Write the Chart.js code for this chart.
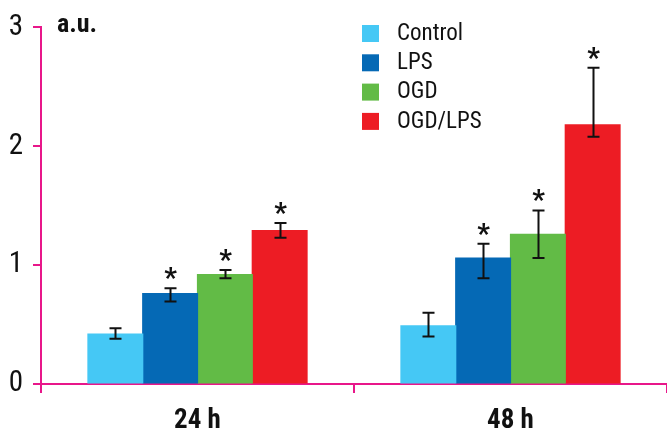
<!DOCTYPE html>
<html>
<head>
<meta charset="utf-8">
<script src="https://cdn.jsdelivr.net/npm/chart.js@4/dist/chart.umd.min.js"></script>
<style>
html,body{margin:0;padding:0;background:#fff;}
#wrap{width:667px;height:432px;position:relative;}
</style>
</head>
<body>
<div id="wrap"><canvas id="c" width="667" height="432"></canvas></div>
<script>
const categories = ['24 h', '48 h'];
const seriesNames = ['Control', 'LPS', 'OGD', 'OGD/LPS'];
const controlValues = [0.42, 0.49];
const lpsValues = [0.76, 1.06];
const ogdValues = [0.92, 1.26];
const ogdLpsValues = [1.29, 2.18];
const controlErrUp = [0.05, 0.11];
const controlErrDown = [0.04, 0.09];
const lpsErrUp = [0.045, 0.12];
const lpsErrDown = [0.065, 0.17];
const ogdErrUp = [0.04, 0.2];
const ogdErrDown = [0.03, 0.2];
const ogdLpsErrUp = [0.065, 0.48];
const ogdLpsErrDown = [0.06, 0.10];
const controlSig = [false, false];
const lpsSig = [true, true];
const ogdSig = [true, true];
const ogdLpsSig = [true, true];
const yTicks = [0, 1, 2, 3];
const unitLabel = 'a.u.';

const colors = ['#45C8F5', '#0569B5', '#62BB46', '#ED1C24'];
const axisColor = '#E8178A';
const FONT = "'Liberation Sans Narrow', 'Arial Narrow', 'Roboto Condensed', 'Liberation Sans', sans-serif";

const valuesAll = [controlValues, lpsValues, ogdValues, ogdLpsValues];
const errUpAll = [controlErrUp, lpsErrUp, ogdErrUp, ogdLpsErrUp];
const errDownAll = [controlErrDown, lpsErrDown, ogdErrDown, ogdLpsErrDown];
const sigAll = [controlSig, lpsSig, ogdSig, ogdLpsSig];

const datasets = seriesNames.map((n, i) => ({
  label: n,
  data: valuesAll[i],
  backgroundColor: colors[i],
  borderWidth: 0,
  inflateAmount: 0.6,
  categoryPercentage: 0.7,
  barPercentage: 1.0,
  errUp: errUpAll[i],
  errDown: errDownAll[i],
  sig: sigAll[i]
}));

const errorBarPlugin = {
  id: 'errbars',
  afterDatasetsDraw(chart) {
    const ctx = chart.ctx;
    const y = chart.scales.y;
    ctx.save();
    chart.data.datasets.forEach((ds, di) => {
      const meta = chart.getDatasetMeta(di);
      meta.data.forEach((bar, i) => {
        const v = ds.data[i];
        const top = y.getPixelForValue(v + ds.errUp[i]);
        const bot = y.getPixelForValue(v - ds.errDown[i]);
        const x = Math.round(bar.x) + 0.5;
        ctx.strokeStyle = '#111';
        ctx.lineWidth = 2;
        ctx.beginPath();
        ctx.moveTo(x, top); ctx.lineTo(x, bot);
        ctx.moveTo(x - 6, top); ctx.lineTo(x + 6, top);
        ctx.moveTo(x - 6, bot); ctx.lineTo(x + 6, bot);
        ctx.stroke();
        if (ds.sig[i]) {
          ctx.fillStyle = '#111';
          ctx.font = 'bold 28px ' + FONT;
          ctx.textAlign = 'center';
          ctx.textBaseline = 'alphabetic';
          ctx.fillText('*', x, top - 1);
        }
      });
    });
    ctx.restore();
  }
};

const legendPlugin = {
  id: 'customLegend',
  afterDraw(chart) {
    const ctx = chart.ctx;
    ctx.save();
    chart.data.datasets.forEach((ds, i) => {
      const yy = 25 + i * 29.3;
      ctx.fillStyle = ds.backgroundColor;
      ctx.fillRect(362, yy, 17, 17);
      ctx.fillStyle = '#111';
      ctx.font = '23px ' + FONT;
      ctx.textAlign = 'left';
      ctx.textBaseline = 'middle';
      ctx.fillText(ds.label, 397, yy + 9);
    });
    ctx.font = 'bold 26px ' + FONT;
    ctx.textBaseline = 'alphabetic';
    ctx.fillText(unitLabel, 57, 32);
    ctx.restore();
  }
};

new Chart(document.getElementById('c'), {
  type: 'bar',
  data: { labels: categories, datasets },
  options: {
    responsive: false,
    animation: false,
    devicePixelRatio: 1,
    layout: { padding: { top: 24, right: 0, left: 0, bottom: 0 } },
    plugins: { legend: { display: false }, tooltip: { enabled: false } },
    scales: {
      x: {
        border: { color: axisColor, width: 2 },
        grid: { offset: true, drawOnChartArea: false, color: axisColor, lineWidth: 2, tickLength: 9 },
        ticks: { color: '#111', font: { family: FONT, size: 27, weight: 'bold' }, padding: 12 },
        afterFit(s) { s.height = 48; }
      },
      y: {
        min: 0, max: 3,
        afterBuildTicks(s) { s.ticks = yTicks.map(v => ({ value: v })); },
        border: { color: axisColor, width: 2 },
        grid: { drawOnChartArea: false, color: axisColor, lineWidth: 2, tickLength: 8 },
        ticks: { color: '#111', font: { family: FONT, size: 29 }, padding: 10 },
        afterFit(s) { s.width = 41; }
      }
    }
  },
  plugins: [errorBarPlugin, legendPlugin]
});
</script>
</body>
</html>
